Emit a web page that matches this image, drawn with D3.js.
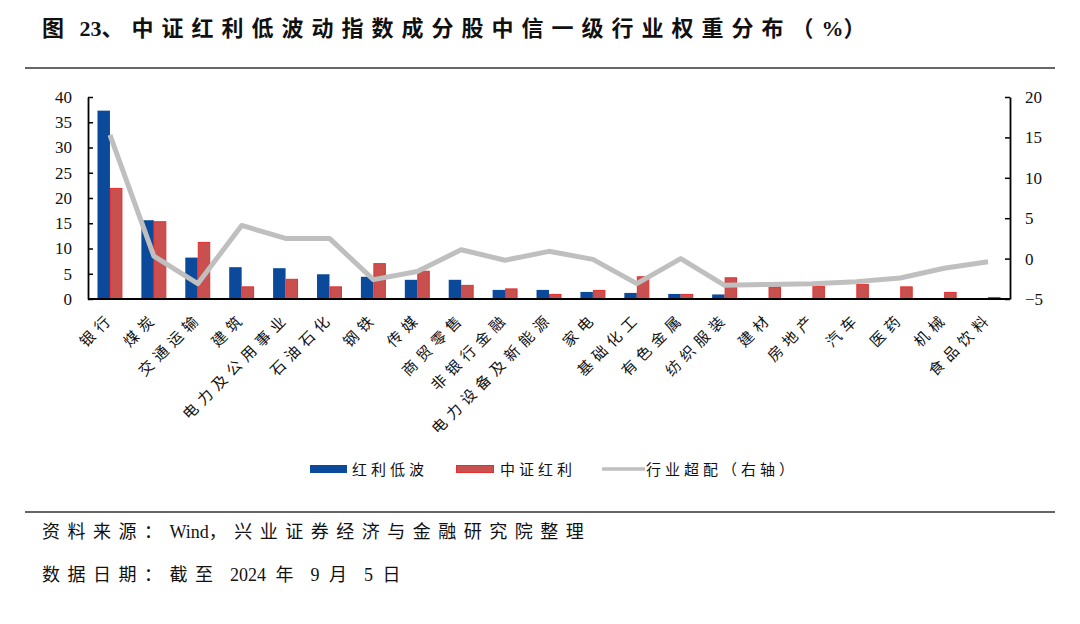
<!DOCTYPE html>
<html>
<head>
<meta charset="utf-8">
<script src="https://cdn.jsdelivr.net/npm/d3@7"></script>
<style>
  html, body { margin: 0; padding: 0; background: #fff; }
  svg { display: block; }
  .cn { font-family: "Liberation Serif", "Times New Roman", "Noto Sans CJK SC", serif; }
</style>
</head>
<body>
<div id="chart"></div>
<script>
// industries (x axis)
const categories = ['银行', '煤炭', '交通运输', '建筑', '电力及公用事业', '石油石化', '钢铁', '传媒', '商贸零售', '非银行金融',
	'电力设备及新能源', '家电', '基础化工', '有色金属', '纺织服装', '建材', '房地产', '汽车', '医药', '机械', '食品饮料']
// 红利低波 weight (%)
const lowVol = [37.3, 15.6, 8.2, 6.3, 6.1, 4.9, 4.4, 3.8, 3.8, 1.8, 1.8, 1.4, 1.2, 1.0, 0.9, 0, 0, 0, 0, 0, 0]
// 中证红利 weight (%)
const csiDiv = [22.0, 15.4, 11.3, 2.5, 4.0, 2.5, 7.1, 5.6, 2.8, 2.1, 1.0, 1.8, 4.5, 1.0, 4.3, 2.5, 2.6, 3.0, 2.5, 1.4, 0.4]
// 行业超配 (right axis)
const overweight = [15.3, 0.3, -3.1, 4.1, 2.5, 2.5, -2.6, -1.6, 1.1, -0.2, 0.9, -0.1, -3.1, 0.0, -3.3, -3.2, -3.1, -2.85, -2.4, -1.2, -0.4]
const leftTicks = [0, 5, 10, 15, 20, 25, 30, 35, 40]
const rightTicks = [-5, 0, 5, 10, 15, 20]

const width = 1080
const height = 624
const plot = { left: 88, right: 1010, top: 97, bottom: 299 }

const blue = '#0b4a9b'
const redFill = '#c8504f'
const redStroke = '#e3302f'
const grey = '#bfbfbf'
const serif = '"Liberation Serif", "Times New Roman", serif'

const svg = d3.select('#chart').append('svg').attr('width', width).attr('height', height)

// split text into runs so only the CJK characters (and blanks) get the wide spacing
function spacedText(sel, str, spacing, blank) {
	const runs = str.match(/ +|[\x21-\x7f]+|[^\x00-\x7f]+/g)
	runs.forEach(r => {
		const isBlank = r[0] === ' '
		const ascii = /^[\x00-\x7f]/.test(r)
		sel.append('tspan')
			.style('letter-spacing', isBlank ? `${blank}px` : ascii ? '0px' : `${spacing}px`)
			.style('font-family', ascii ? serif : null)
			.text(r)
	})
}

// title + rules
svg.append('text')
	.attr('class', 'cn')
	.attr('x', 42).attr('y', 36)
	.attr('font-size', 22).attr('font-weight', 'bold')
	.attr('fill', '#111')
	.call(spacedText, '图 23、中证红利低波动指数成分股中信一级行业权重分布（%）', 8, 2)

svg.append('line').attr('x1', 25).attr('x2', 1055).attr('y1', 68).attr('y2', 68).attr('stroke', '#333').attr('stroke-width', 1.5)
svg.append('line').attr('x1', 25).attr('x2', 1055).attr('y1', 512).attr('y2', 512).attr('stroke', '#333').attr('stroke-width', 1.5)

// scales
const x = d3.scaleBand().domain(categories).range([plot.left, plot.right]).padding(0)
const x1 = d3.scaleBand().domain(['a', 'b']).range([0, x.bandwidth()]).paddingInner(0).paddingOuter(0.76)
const yL = d3.scaleLinear().domain([0, 40]).range([plot.bottom, plot.top])
const yR = d3.scaleLinear().domain([-5, 20]).range([plot.bottom, plot.top])

// bars
const g = svg.append('g')
g.selectAll('.bar-a')
	.data(lowVol)
	.enter()
	.append('rect')
	.attr('class', 'bar-a')
	.attr('x', (d, i) => x(categories[i]) + x1('a'))
	.attr('width', x1.bandwidth())
	.attr('y', d => yL(d))
	.attr('height', d => yL(0) - yL(d))
	.attr('fill', blue)

g.selectAll('.bar-b')
	.data(csiDiv)
	.enter()
	.append('rect')
	.attr('class', 'bar-b')
	.attr('x', (d, i) => x(categories[i]) + x1('b') + 0.5)
	.attr('width', x1.bandwidth() - 1)
	.attr('y', d => yL(d) + 0.5)
	.attr('height', d => Math.max(0, yL(0) - yL(d) - 0.5))
	.attr('fill', redFill)
	.attr('stroke', redStroke)
	.attr('stroke-width', 1)

// overweight line
const line = d3.line()
	.x((d, i) => x(categories[i]) + x.bandwidth() / 2)
	.y(d => yR(d))

g.append('path')
	.datum(overweight)
	.attr('d', line)
	.attr('fill', 'none')
	.attr('stroke', grey)
	.attr('stroke-width', 5)
	.attr('stroke-linejoin', 'round')

// axes
const axisStyle = sel => {
	sel.attr('font-family', null)
	sel.select('.domain').attr('stroke', '#000').attr('stroke-width', 1.8)
	sel.selectAll('.tick line').attr('stroke', '#000').attr('stroke-width', 1.5)
	sel.selectAll('.tick text').style('font-family', serif).attr('font-size', 17).attr('fill', '#111')
}

svg.append('g')
	.attr('transform', `translate(${plot.left},0)`)
	.call(d3.axisLeft(yL).tickValues(leftTicks).tickSizeInner(-5).tickSizeOuter(0).tickPadding(16))
	.call(axisStyle)

svg.append('g')
	.attr('transform', `translate(${plot.right},0)`)
	.call(d3.axisRight(yR).tickValues(rightTicks).tickSizeInner(-5).tickSizeOuter(0).tickPadding(15))
	.call(axisStyle)

svg.append('line')
	.attr('x1', plot.left).attr('x2', plot.right)
	.attr('y1', plot.bottom).attr('y2', plot.bottom)
	.attr('stroke', '#000').attr('stroke-width', 2)

// category labels
svg.append('g')
	.selectAll('text')
	.data(categories)
	.enter()
	.append('text')
	.attr('class', 'cn')
	.attr('transform', d => `translate(${x(d) + x.bandwidth() / 2 + 5},${plot.bottom + 20}) rotate(-45)`)
	.attr('text-anchor', 'end')
	.attr('font-size', 15)
	.style('letter-spacing', '5.5px')
	.attr('fill', '#111')
	.text(d => d)

// legend
const legend = svg.append('g').attr('class', 'cn')
legend.append('rect').attr('x', 310).attr('y', 465).attr('width', 37).attr('height', 8).attr('fill', blue)
legend.append('text').attr('x', 352).attr('y', 475).attr('font-size', 15).style('letter-spacing', '4px').attr('fill', '#111').text('红利低波')
legend.append('rect').attr('x', 456.5).attr('y', 465.5).attr('width', 37).attr('height', 7).attr('fill', redFill).attr('stroke', redStroke)
legend.append('text').attr('x', 500).attr('y', 475).attr('font-size', 15).style('letter-spacing', '4px').attr('fill', '#111').text('中证红利')
legend.append('line').attr('x1', 602).attr('x2', 645).attr('y1', 469).attr('y2', 469).attr('stroke', grey).attr('stroke-width', 3.5)
legend.append('text').attr('x', 646).attr('y', 475).attr('font-size', 15).style('letter-spacing', '4px').attr('fill', '#111').text('行业超配（右轴）')

// footer
svg.append('text').attr('class', 'cn').attr('x', 42).attr('y', 538).attr('font-size', 18).attr('fill', '#111')
	.call(spacedText, '资料来源：Wind，兴业证券经济与金融研究院整理', 7.5, 0)
svg.append('text').attr('class', 'cn').attr('x', 42).attr('y', 581).attr('font-size', 18).attr('fill', '#111')
	.call(spacedText, '数据日期：截至 2024 年 9 月 5 日', 7.5, 5)
</script>
</body>
</html>
